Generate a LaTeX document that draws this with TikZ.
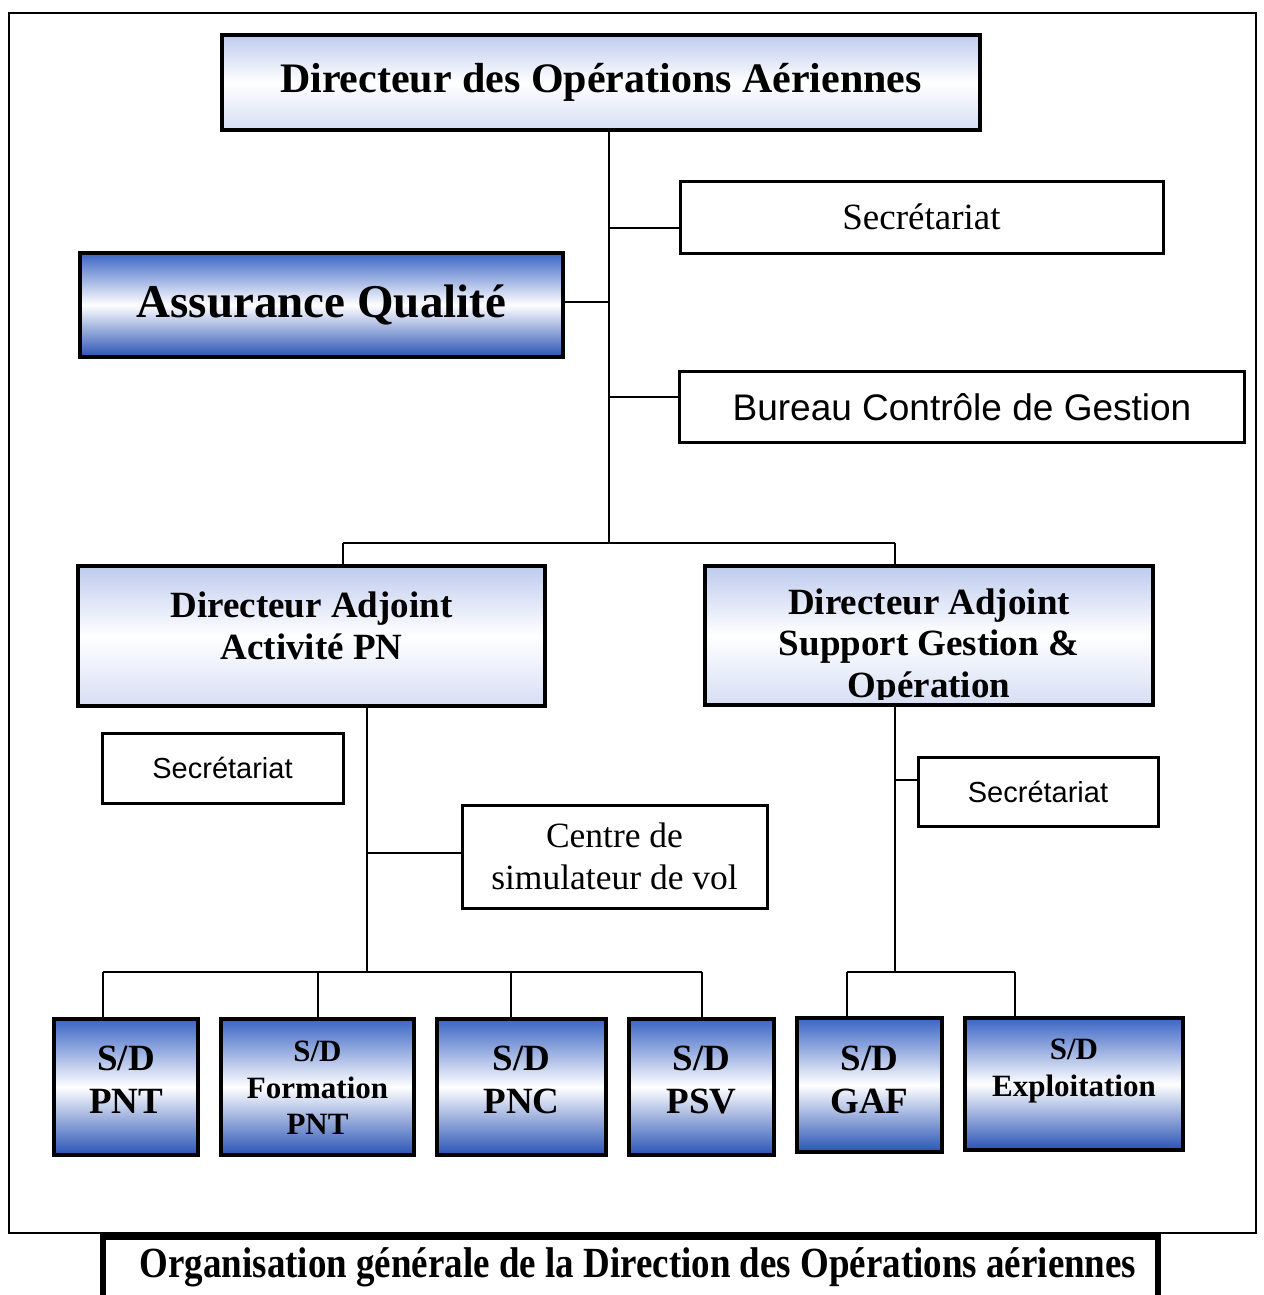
\documentclass[tikz,border=0pt]{standalone}
\usepackage{fontspec}
\setmainfont{Liberation Serif}
\newfontfamily\arialf{Liberation Sans}
\newfontfamily\capfont{Liberation Serif}[FakeStretch=0.86]
\newcommand\setfs[2]{\fontsize{#1}{#2}\selectfont}
\definecolor{lbtop}{RGB}{190,203,238}
\definecolor{lbbot}{RGB}{214,222,244}
\definecolor{dbtop}{RGB}{58,100,196}
\definecolor{dbbot}{RGB}{40,82,180}
\tikzset{
  lightbox/.style={draw=black, line width=4pt, top color=lbtop, bottom color=lbbot, middle color=white, align=center, inner sep=0pt},
  darkbox/.style={draw=black, line width=4.5pt, top color=dbtop, bottom color=dbbot, middle color=white, align=center, inner sep=0pt},
  plainbox/.style={draw=black, line width=3pt, fill=white, align=center, inner sep=0pt},
  conn/.style={draw=black, line width=2pt},
  datxt/.style={align=center, inner sep=0pt, font={\setfs{37}{41.5}\bfseries}},
  sdtxt/.style={align=center, inner sep=0pt, font={\setfs{37}{43}\bfseries}},
  sdsmall/.style={align=center, inner sep=0pt, font={\setfs{31}{36.5}\bfseries}},
}
\begin{document}
\begin{tikzpicture}[x=1pt,y=-1pt]
\useasboundingbox (0,0) rectangle (1263,1295);
\fill[white] (0,0) rectangle (1263,1295);
\draw[line width=2pt] (9,13) rectangle (1256,1233);

% top level
\node[lightbox, minimum width=758, minimum height=95, font={\setfs{42}{50}\bfseries}] (dir) at (601,82.5) {Directeur des Opérations Aériennes};
\node[plainbox, minimum width=483, minimum height=72, font={\setfs{37}{44}}] (sec1) at (921.5,217) {Secrétariat};
\node[darkbox, minimum width=483, minimum height=104, font={\setfs{47}{54}\bfseries}] (aq) at (321.5,305) {Assurance Qualité};
\node[plainbox, minimum width=565, minimum height=71, font={\arialf\setfs{37}{44}}] (bcg) at (962,407) {Bureau Contrôle de Gestion};

\coordinate (j0) at (609,543);
\coordinate (c1) at (609,228);
\coordinate (c2) at (609,302);
\coordinate (c3) at (609,397);
\draw[conn] (dir.south -| j0) -- (j0);
\draw[conn] (c1) -- (c1 -| sec1.west);
\draw[conn] (c2) -- (c2 -| aq.east);
\draw[conn] (c3) -- (c3 -| bcg.west);

% deputy directors
\node[lightbox, minimum width=467, minimum height=140] (da1) at (311.5,636) {};
\node[datxt] (da1txt) at (311.5,626) {Directeur Adjoint\\Activité PN};
\node[lightbox, outer sep=0pt, minimum width=448, minimum height=139] (da2) at (929,635.5) {};
\begin{scope}
  \clip ([yshift=6pt]da2.south west) rectangle (da2.north east);
  \node[datxt] (da2txt) at (929,647) {Directeur Adjoint\\Support Gestion \&\\Opération};
\end{scope}
\draw[line width=4pt] (da2.south west) rectangle (da2.north east);

\coordinate (bL) at (343,543);
\coordinate (bR) at (895,543);
\draw[conn] (bL) -- (bR);
\draw[conn] (bL) -- (bL |- da1.north);
\draw[conn] (bR) -- (bR |- da2.north);

% left branch
\node[plainbox, minimum width=241, minimum height=70, font={\arialf\setfs{29}{35}}] (secL) at (222.5,768) {Secrétariat};
\node[plainbox, minimum width=305, minimum height=103, font={\setfs{35.5}{42}}] (csv) at (614.5,856.5) {Centre de\\simulateur de vol};
\coordinate (jL) at (367,972);
\coordinate (c4) at (367,853);
\draw[conn] (jL |- da1.south) -- (jL);
\draw[conn] (c4) -- (c4 -| csv.west);

% right branch
\node[plainbox, minimum width=240, minimum height=69, font={\arialf\setfs{29}{35}}] (secR) at (1038,791.5) {Secrétariat};
\coordinate (jR) at (895,972);
\coordinate (c5) at (895,780);
\draw[conn] (jR |- da2.south) -- (jR);
\draw[conn] (c5) -- (c5 -| secR.west);

% sub-directions
\node[darkbox, minimum width=144, minimum height=136] (pnt) at (126,1087) {};
\node[darkbox, minimum width=193, minimum height=136] (fpnt) at (317.5,1087) {};
\node[darkbox, minimum width=169, minimum height=136] (pnc) at (521.5,1087) {};
\node[darkbox, minimum width=145, minimum height=136] (psv) at (701.5,1087) {};
\node[darkbox, minimum width=145, minimum height=134] (gaf) at (869.5,1085) {};
\node[darkbox, minimum width=218, minimum height=132] (exp) at (1074,1084) {};

\node[sdtxt] (pnttxt) at (126,1080) {S/D\\PNT};
\node[sdsmall] (fpnttxt) at (317.5,1088) {S/D\\Formation\\PNT};
\node[sdtxt] (pnctxt) at (521.5,1080) {S/D\\PNC};
\node[sdtxt] (psvtxt) at (701.5,1080) {S/D\\PSV};
\node[sdtxt] (gaftxt) at (869.5,1080) {S/D\\GAF};
\node[sdsmall] (exptxt) at (1074,1071) {S/D\\Exploitation};

\coordinate (d1) at (103,972);
\coordinate (d2) at (318,972);
\coordinate (d3) at (511,972);
\coordinate (d4) at (702,972);
\draw[conn] (d1) -- (d4);
\draw[conn] (d1) -- (d1 |- pnt.north);
\draw[conn] (d2) -- (d2 |- fpnt.north);
\draw[conn] (d3) -- (d3 |- pnc.north);
\draw[conn] (d4) -- (d4 |- psv.north);

\coordinate (d5) at (847,972);
\coordinate (d6) at (1015,972);
\draw[conn] (d5) -- (d6);
\draw[conn] (d5) -- (d5 |- gaf.north);
\draw[conn] (d6) -- (d6 |- exp.north);

% caption
\coordinate (capL) at (103,1237);
\coordinate (capR) at (1158,1237);
\draw[line width=6pt] (capL |- 0,1300) -- (capL) -- (capR) -- (capR |- 0,1300);
\node[inner sep=0pt, font={\capfont\setfs{43}{50}\bfseries}] (cap) at (638,1267) {Organisation générale de la Direction des Opérations aériennes};
\end{tikzpicture}
\end{document}
